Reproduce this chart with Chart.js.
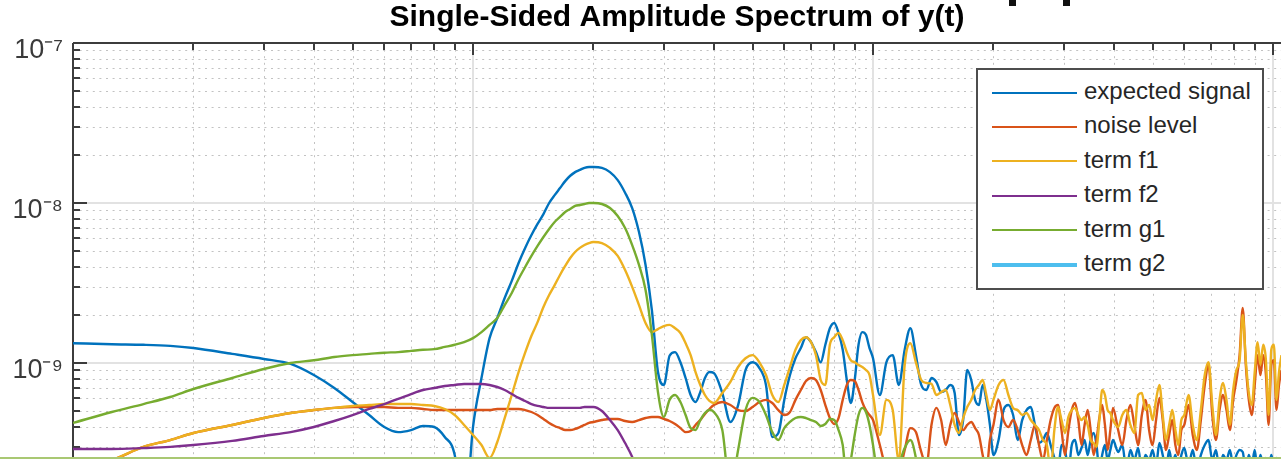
<!DOCTYPE html>
<html>
<head>
<meta charset="utf-8">
<title>Single-Sided Amplitude Spectrum of y(t)</title>
<script src="https://cdn.jsdelivr.net/npm/chart.js@4/dist/chart.umd.min.js"></script>
<style>
  html, body { margin: 0; padding: 0; background: #fff; overflow: hidden; }
  #wrap { position: relative; width: 1281px; height: 459px; }
  #spectrum { display: block; }
  #legend {
    position: absolute; left: 976px; top: 68px; width: 284px; height: 214px;
    border: 2px solid #4d4d4d; background: #fff; padding-top: 4px; box-sizing: content-box;
    font-family: "Liberation Sans", Arial, Helvetica, sans-serif; font-size: 24px; color: #262626;
  }
  #legend .row { height: 34.4px; line-height: 34.4px; white-space: nowrap; }
  #legend .swatch { display: inline-block; width: 85px; height: 0; margin: 0 7px 0 14px; vertical-align: middle; }
  .edge-mark { position: absolute; top: 0; width: 7px; height: 6px; background: #111; }
  #baseline-strip { position: absolute; left: 0; top: 457px; width: 1281px; height: 2px; background: #a9c873; }
</style>
</head>
<body>
<div id="wrap">
  <canvas id="spectrum" width="1281" height="459"></canvas>
  <div id="legend"></div>
  <div class="edge-mark" style="left:1009px"></div>
  <div class="edge-mark" style="left:1063px"></div>
  <div id="baseline-strip"></div>
</div>
<script>
// Frequency bins (Hz)
const freqHz = [
  1, 1.25, 1.5, 1.75, 2, 2.5, 3, 3.5, 4, 4.5, 5, 5.5, 6, 6.5, 7, 7.5, 8, 8.5, 9, 9.5, 10,
  10.5, 11, 11.5, 12, 12.5, 13, 13.5, 14, 14.5, 15, 15.5, 16, 16.5, 17, 17.5, 18, 18.5, 19, 19.5, 20,
  21, 22, 23, 24, 25, 26, 27, 28, 29, 30, 31, 32, 33, 34, 35, 36, 37, 38, 39, 40,
  42, 44, 46, 48, 50, 52, 54, 56, 58, 60, 62, 64, 66, 68, 70, 72, 74, 76, 78, 80,
  82, 84, 86, 88, 90, 92, 94, 96, 98, 100,
  104, 108, 112, 116, 120, 124, 128, 132, 136, 140, 144, 148, 152, 156, 160, 164, 168, 172, 176, 180,
  184, 188, 192, 196, 200,
  206, 212, 218, 224, 230, 236, 242, 248, 254, 260, 266, 272, 278, 284, 290, 296, 302, 308, 314, 320,
  326, 332, 338, 344, 350, 356, 362, 368, 374, 380, 386, 392, 398,
  410, 420, 430, 440, 450, 460, 470, 480, 490, 500, 510, 520, 530, 540, 550, 560, 570, 580, 590, 600,
  615, 630, 645, 660, 675, 690, 705, 720, 735, 750, 765, 780, 795, 810, 825, 840, 855, 870, 885, 900,
  915, 930, 945, 960, 975, 990, 1005, 1020, 1035, 1050
];

// |Y(f)| of each contribution
const expectedSignal = [
  1.33e-9, 1.31e-9, 1.30e-9, 1.28e-9, 1.24e-9, 1.14e-9, 1.06e-9, 9.86e-10, 8.41e-10, 6.98e-10,
  5.70e-10, 4.73e-10, 3.98e-10, 3.70e-10, 3.81e-10, 4.04e-10, 3.98e-10, 3.45e-10, 2.66e-10, 1.0e-10, 3.98e-10,
  8.05e-10, 1.43e-9, 1.91e-9, 2.55e-9, 3.26e-9, 4.22e-9, 5.24e-9, 6.31e-9, 7.40e-9, 8.53e-9,
  1.00e-8, 1.12e-8, 1.24e-8, 1.37e-8, 1.48e-8, 1.56e-8, 1.61e-8, 1.66e-8, 1.68e-8, 1.68e-8,
  1.66e-8, 1.56e-8, 1.39e-8, 1.16e-8, 9.30e-9, 6.58e-9, 4.10e-9, 2.14e-9, 8.78e-10, 7.29e-10,
  1.11e-9, 1.17e-9, 1.01e-9, 8.06e-10, 6.31e-10, 5.70e-10, 6.58e-10, 8.06e-10, 8.78e-10, 8.66e-10,
  6.49e-10, 4.28e-10, 5.46e-10, 9.04e-10, 1.01e-9, 9.30e-10, 7.29e-10, 3.45e-10, 3.65e-10, 5.88e-10,
  8.41e-10, 1.07e-9, 1.24e-9, 1.45e-9, 1.35e-9, 1.17e-9, 1.01e-9, 1.30e-9, 1.65e-9, 1.78e-9,
  1.54e-9, 1.21e-9, 7.83e-10, 5.62e-10, 7.83e-10, 1.30e-9, 1.56e-9, 1.50e-9, 1.24e-9, 1.07e-9,
  6.31e-10, 1.01e-9, 1.12e-9, 7.29e-10, 1.21e-9, 1.65e-9, 1.12e-9, 7.29e-10, 6.78e-10, 8.06e-10,
  7.61e-10, 6.58e-10, 6.78e-10, 7.29e-10, 6.49e-10, 3.55e-10, 4.40e-10, 9.04e-10, 7.83e-10, 5.88e-10,
  5.46e-10, 7.29e-10, 5.88e-10, 4.10e-10, 2.66e-10,
  3.30e-10, 5.08e-10, 5.46e-10, 4.73e-10, 3.30e-10, 4.40e-10, 5.08e-10, 5.31e-10, 4.10e-10, 3.16e-10,
  3.30e-10, 3.65e-10, 3.07e-10, 2.55e-10, 2.14e-10, 3.07e-10, 2.86e-10, 2.14e-10, 3.07e-10, 3.30e-10,
  2.66e-10, 2.94e-10, 3.30e-10, 2.66e-10, 3.30e-10, 3.65e-10, 3.07e-10, 2.14e-10, 2.66e-10, 3.07e-10,
  2.47e-10, 2.86e-10, 3.30e-10,
  2.78e-10, 3.07e-10, 2.14e-10, 2.86e-10, 2.47e-10, 2.94e-10, 2.14e-10, 2.66e-10, 2.47e-10, 2.86e-10,
  2.30e-10, 3.16e-10, 2.66e-10, 2.14e-10, 2.86e-10, 2.30e-10, 2.66e-10, 2.14e-10, 2.66e-10, 2.94e-10,
  2.30e-10, 2.86e-10, 2.14e-10, 2.66e-10, 3.07e-10, 3.30e-10, 2.47e-10, 2.86e-10, 2.14e-10, 2.66e-10,
  2.47e-10, 2.86e-10, 2.30e-10, 2.66e-10, 2.86e-10, 2.78e-10, 2.14e-10, 2.66e-10, 2.30e-10, 2.86e-10,
  2.14e-10, 2.66e-10, 2.30e-10, 2.55e-10, 2.14e-10, 2.66e-10, 2.30e-10, 2.55e-10, 2.14e-10, 2.47e-10
];

const noiseLevel = [
  2.14e-10, 2.47e-10, 2.99e-10, 3.30e-10, 3.65e-10, 4.10e-10, 4.53e-10, 4.87e-10, 5.08e-10, 5.24e-10,
  5.31e-10, 5.31e-10, 5.31e-10, 5.24e-10, 5.24e-10, 5.16e-10, 5.08e-10, 5.08e-10, 5.08e-10, 5.08e-10, 5.08e-10,
  5.08e-10, 5.08e-10, 5.16e-10, 5.16e-10, 5.16e-10, 5.16e-10, 5.08e-10, 4.94e-10, 4.73e-10, 4.47e-10,
  4.22e-10, 4.04e-10, 3.92e-10, 3.81e-10, 3.81e-10, 3.87e-10, 3.98e-10, 4.10e-10, 4.22e-10, 4.28e-10,
  4.40e-10, 4.47e-10, 4.47e-10, 4.34e-10, 4.28e-10, 4.40e-10, 4.53e-10, 4.60e-10, 4.60e-10, 4.47e-10,
  4.34e-10, 4.16e-10, 3.92e-10, 3.70e-10, 3.76e-10, 4.10e-10, 4.40e-10, 4.80e-10, 5.16e-10, 5.46e-10,
  5.70e-10, 5.46e-10, 5.08e-10, 5.01e-10, 5.31e-10, 5.70e-10, 5.88e-10, 5.62e-10, 5.08e-10, 4.73e-10,
  4.94e-10, 5.88e-10, 6.78e-10, 7.72e-10, 8.06e-10, 7.83e-10, 6.78e-10, 5.46e-10, 4.53e-10, 4.16e-10,
  4.53e-10, 5.88e-10, 7.29e-10, 7.83e-10, 7.72e-10, 6.78e-10, 5.70e-10, 5.08e-10, 4.73e-10, 4.40e-10,
  3.07e-10, 2.14e-10, 1.86e-10, 2.00e-10, 2.86e-10, 3.92e-10, 3.70e-10, 2.78e-10, 2.30e-10, 4.10e-10,
  5.24e-10, 4.40e-10, 3.07e-10, 4.10e-10, 4.87e-10, 4.28e-10, 3.81e-10, 4.10e-10, 4.28e-10, 3.92e-10,
  3.55e-10, 2.66e-10, 2.14e-10, 3.30e-10, 4.10e-10,
  5.88e-10, 4.40e-10, 3.98e-10, 4.40e-10, 3.81e-10, 3.07e-10, 2.66e-10, 3.30e-10, 4.10e-10, 3.07e-10,
  2.47e-10, 3.30e-10, 4.40e-10, 5.24e-10, 5.46e-10, 3.81e-10, 2.66e-10, 3.81e-10, 5.08e-10, 5.62e-10,
  4.40e-10, 3.07e-10, 4.10e-10, 5.08e-10, 3.81e-10, 2.66e-10, 3.30e-10, 4.53e-10, 5.46e-10, 4.10e-10,
  2.86e-10, 3.81e-10, 5.24e-10,
  3.81e-10, 3.07e-10, 4.40e-10, 5.46e-10, 4.10e-10, 3.07e-10, 4.73e-10, 5.88e-10, 3.81e-10, 3.07e-10,
  4.40e-10, 6.05e-10, 4.40e-10, 2.86e-10, 3.55e-10, 4.40e-10, 3.07e-10, 2.66e-10, 3.81e-10, 4.10e-10,
  5.46e-10, 3.55e-10, 2.86e-10, 4.40e-10, 7.29e-10, 9.72e-10, 4.73e-10, 3.30e-10, 5.08e-10, 6.31e-10,
  5.08e-10, 3.81e-10, 5.88e-10, 7.83e-10, 1.12e-9, 2.21e-9, 9.72e-10, 5.88e-10, 4.73e-10, 7.29e-10,
  1.12e-9, 8.41e-10, 1.12e-9, 8.41e-10, 4.10e-10, 9.72e-10, 1.04e-9, 5.08e-10, 7.29e-10, 9.04e-10
];

const termF1 = [
  2.08e-10, 2.47e-10, 2.99e-10, 3.30e-10, 3.65e-10, 4.10e-10, 4.53e-10, 4.87e-10, 5.08e-10, 5.24e-10,
  5.39e-10, 5.46e-10, 5.54e-10, 5.54e-10, 5.54e-10, 5.46e-10, 5.39e-10, 5.16e-10, 4.73e-10, 4.10e-10, 3.55e-10,
  3.07e-10, 2.55e-10, 3.21e-10, 4.53e-10, 6.31e-10, 8.78e-10, 1.16e-9, 1.48e-9, 1.80e-9, 2.24e-9,
  2.66e-9, 3.07e-9, 3.55e-9, 4.04e-9, 4.53e-9, 4.94e-9, 5.24e-9, 5.46e-9, 5.62e-9, 5.70e-9,
  5.62e-9, 5.24e-9, 4.67e-9, 3.81e-9, 2.99e-9, 2.30e-9, 1.78e-9, 1.56e-9, 1.63e-9, 1.70e-9,
  1.73e-9, 1.65e-9, 1.54e-9, 1.33e-9, 1.12e-9, 8.78e-10, 7.29e-10, 6.31e-10, 5.79e-10, 5.62e-10,
  6.49e-10, 7.61e-10, 9.44e-10, 1.07e-9, 1.12e-9, 1.01e-9, 8.41e-10, 6.31e-10, 5.70e-10, 7.29e-10,
  9.44e-10, 1.21e-9, 1.39e-9, 1.45e-9, 1.35e-9, 1.12e-9, 7.83e-10, 7.29e-10, 1.30e-9, 1.45e-9,
  1.54e-9, 1.39e-9, 1.17e-9, 1.04e-9, 1.01e-9, 9.72e-10, 9.44e-10, 9.04e-10, 8.41e-10, 6.31e-10,
  3.55e-10, 5.88e-10, 5.08e-10, 2.47e-10, 9.72e-10, 1.33e-9, 1.01e-9, 7.83e-10, 7.50e-10, 7.40e-10,
  6.31e-10, 6.58e-10, 6.78e-10, 5.46e-10, 4.10e-10, 3.65e-10, 4.53e-10, 5.31e-10, 5.88e-10, 6.78e-10,
  7.29e-10, 7.83e-10, 6.31e-10, 5.08e-10, 5.88e-10,
  7.29e-10, 7.83e-10, 6.31e-10, 5.24e-10, 5.08e-10, 4.73e-10, 4.87e-10, 4.40e-10, 4.10e-10, 3.81e-10,
  3.30e-10, 3.07e-10, 2.14e-10, 3.81e-10, 5.31e-10, 4.40e-10, 3.65e-10, 4.60e-10, 5.08e-10, 5.24e-10,
  4.73e-10, 4.40e-10, 4.60e-10, 4.10e-10, 3.30e-10, 3.16e-10, 2.99e-10, 4.40e-10, 6.78e-10, 6.31e-10,
  5.08e-10, 4.87e-10, 4.40e-10,
  3.98e-10, 4.73e-10, 5.08e-10, 4.10e-10, 3.65e-10, 6.31e-10, 6.49e-10, 5.08e-10, 5.46e-10, 4.40e-10,
  5.88e-10, 7.29e-10, 4.73e-10, 3.30e-10, 4.10e-10, 5.08e-10, 3.81e-10, 3.07e-10, 4.40e-10, 4.73e-10,
  6.31e-10, 4.10e-10, 3.30e-10, 5.08e-10, 8.41e-10, 1.01e-9, 5.46e-10, 3.55e-10, 5.88e-10, 7.50e-10,
  5.88e-10, 4.10e-10, 6.78e-10, 9.04e-10, 1.04e-9, 2.00e-9, 1.04e-9, 6.49e-10, 5.46e-10, 8.78e-10,
  1.35e-9, 9.72e-10, 1.30e-9, 1.04e-9, 4.73e-10, 1.21e-9, 1.30e-9, 5.88e-10, 8.78e-10, 1.12e-9
];

// f2 and g1 fall below the plotted range beyond their last listed bin
const termF2 = [
  2.90e-10, 2.90e-10, 2.94e-10, 2.99e-10, 3.07e-10, 3.26e-10, 3.50e-10, 3.70e-10, 3.98e-10, 4.34e-10,
  4.73e-10, 5.16e-10, 5.54e-10, 5.96e-10, 6.40e-10, 6.78e-10, 6.98e-10, 7.18e-10, 7.29e-10, 7.40e-10, 7.40e-10,
  7.40e-10, 7.29e-10, 7.08e-10, 6.78e-10, 6.40e-10, 6.05e-10, 5.79e-10, 5.54e-10, 5.39e-10, 5.31e-10,
  5.24e-10, 5.24e-10, 5.24e-10, 5.24e-10, 5.24e-10, 5.24e-10, 5.24e-10, 5.31e-10, 5.31e-10, 5.31e-10,
  5.01e-10, 4.40e-10, 3.81e-10, 3.16e-10, 2.59e-10, 2.00e-10, 1.30e-10, 9.8e-11
];

const termG1 = [
  4.22e-10, 4.94e-10, 5.54e-10, 6.13e-10, 6.88e-10, 8.06e-10, 9.17e-10, 1.00e-9, 1.04e-9, 1.09e-9,
  1.12e-9, 1.14e-9, 1.16e-9, 1.17e-9, 1.19e-9, 1.21e-9, 1.22e-9, 1.26e-9, 1.30e-9, 1.35e-9, 1.43e-9,
  1.56e-9, 1.73e-9, 1.91e-9, 2.30e-9, 2.74e-9, 3.35e-9, 3.98e-9, 4.67e-9, 5.39e-9, 6.13e-9,
  6.88e-9, 7.61e-9, 8.18e-9, 8.79e-9, 9.17e-9, 9.58e-9, 9.72e-9, 9.86e-9, 1.00e-8, 1.00e-8,
  9.86e-9, 9.30e-9, 8.29e-9, 6.98e-9, 5.46e-9, 4.10e-9, 2.86e-9, 1.50e-9, 6.58e-10, 4.60e-10,
  5.88e-10, 6.31e-10, 5.70e-10, 4.73e-10, 3.92e-10, 3.81e-10, 4.40e-10, 4.87e-10, 5.08e-10, 4.94e-10,
  3.81e-10, 1.61e-10, 2.86e-10, 5.08e-10, 6.05e-10, 5.70e-10, 4.73e-10, 3.70e-10, 3.30e-10, 3.92e-10,
  4.28e-10, 4.53e-10, 4.60e-10, 4.53e-10, 4.40e-10, 4.28e-10, 4.04e-10, 4.16e-10, 4.47e-10, 4.40e-10,
  3.81e-10, 3.07e-10, 1.86e-10, 2.47e-10, 3.55e-10, 4.73e-10, 5.24e-10, 4.94e-10, 4.10e-10, 3.07e-10,
  1.61e-10, 1.39e-10, 1.86e-10, 2.30e-10, 2.94e-10, 3.30e-10, 2.55e-10, 1.50e-10
];

// g2 stays under the lower limit over the whole band
const termG2Hz = [1, 10, 100, 1050];
const termG2 = [1.1e-10, 1.0e-10, 9.0e-11, 8.0e-11];

const seriesNames = ['expected signal', 'noise level', 'term f1', 'term f2', 'term g1', 'term g2'];
const seriesColors = ['#0072BD', '#D95319', '#EDB120', '#7E2F8E', '#77AC30', '#4DBEEE'];
const seriesWidths = [2.4, 2.4, 2.4, 2.4, 2.4, 4];

const yTickExponents = [-7, -8, -9];
const freqRange = [1, 1047];
const ampRange = [2.512e-10, 1e-7];

const FONT = '"Liberation Sans", Arial, Helvetica, sans-serif';
const AXIS_INK = '#3c3c3c';

const SUP = { '-': '\u207B', '0': '\u2070', '1': '\u00B9', '2': '\u00B2', '3': '\u00B3', '4': '\u2074',
              '5': '\u2075', '6': '\u2076', '7': '\u2077', '8': '\u2078', '9': '\u2079' };
const powerLabel = (e) => '10' + String(e).split('').map(c => SUP[c]).join('');

const valueSets = [expectedSignal, noiseLevel, termF1, termF2, termG1];

const datasets = seriesNames.map((name, i) => ({
  label: name,
  data: i < 5
    ? valueSets[i].map((v, j) => ({ x: freqHz[j], y: v }))
    : termG2.map((v, j) => ({ x: termG2Hz[j], y: v })),
  borderColor: seriesColors[i],
  backgroundColor: seriesColors[i],
  borderWidth: seriesWidths[i],
  pointRadius: 0,
  fill: false,
  cubicInterpolationMode: 'monotone',
  order: seriesNames.length - i   // later series are drawn on top
}));

// Grid (minor dotted, decades solid), box edges and inward tick marks
const axesFrame = {
  id: 'axesFrame',
  beforeDatasetsDraw(chart) {
    const { ctx, chartArea: a, scales: { x, y } } = chart;
    const xs = [], ys = [];
    for (let d = 0; d <= 3; d++) for (let k = 1; k <= 9; k++) {
      const v = k * Math.pow(10, d);
      if (v > x.min && v <= x.max) xs.push({ p: x.getPixelForValue(v), major: k === 1 });
    }
    for (let d = -10; d <= -8; d++) for (let k = 1; k <= 9; k++) {
      const v = k * Math.pow(10, d);
      if (v >= y.min && v < y.max) ys.push({ p: y.getPixelForValue(v), major: k === 1 });
    }
    ctx.save();
    // minor grid
    ctx.strokeStyle = '#c2c2c2';
    ctx.lineWidth = 1;
    ctx.setLineDash([2, 4.6]);
    ctx.beginPath();
    xs.filter(t => !t.major).forEach(t => { const px = Math.round(t.p) + 0.5; ctx.moveTo(px, a.top); ctx.lineTo(px, a.bottom); });
    ys.filter(t => !t.major).forEach(t => { const py = Math.round(t.p) + 0.5; ctx.moveTo(a.left, py); ctx.lineTo(a.right, py); });
    ctx.stroke();
    // major grid
    ctx.setLineDash([]);
    ctx.strokeStyle = '#e2e2e2';
    ctx.lineWidth = 2;
    ctx.beginPath();
    xs.filter(t => t.major).forEach(t => { const px = Math.round(t.p); ctx.moveTo(px, a.top); ctx.lineTo(px, a.bottom); });
    ys.filter(t => t.major).forEach(t => { const py = Math.round(t.p); ctx.moveTo(a.left, py); ctx.lineTo(a.right, py); });
    ctx.stroke();
    // box edges (left and top)
    ctx.strokeStyle = AXIS_INK;
    ctx.lineWidth = 2;
    ctx.beginPath();
    ctx.moveTo(a.left, a.top); ctx.lineTo(a.left, a.bottom);
    ctx.moveTo(a.left, a.top); ctx.lineTo(a.right, a.top);
    ctx.stroke();
    // inward ticks
    ctx.beginPath();
    xs.forEach(t => { const px = Math.round(t.p); ctx.moveTo(px, a.top); ctx.lineTo(px, a.top + (t.major ? 12 : 7)); });
    ys.forEach(t => { const py = Math.round(t.p); ctx.moveTo(a.left, py); ctx.lineTo(a.left + (t.major ? 14 : 7), py); });
    ctx.stroke();
    ctx.restore();
  }
};

new Chart(document.getElementById('spectrum'), {
  type: 'line',
  data: { datasets },
  plugins: [axesFrame],
  options: {
    responsive: false,
    animation: false,
    devicePixelRatio: 1,
    events: [],
    layout: { padding: 0, autoPadding: false },
    scales: {
      x: { type: 'logarithmic', min: freqRange[0], max: freqRange[1], display: false },
      y: {
        type: 'logarithmic', min: ampRange[0], max: ampRange[1],
        grid: { display: false, drawTicks: false }, border: { display: false },
        afterFit: (s) => { s.width = 73; s.paddingTop = 0; s.paddingBottom = 0; },
        ticks: {
          autoSkip: false, padding: 10, labelOffset: 8, color: '#3a3a3a',
          font: { family: FONT, size: 27 },
          callback: (v) => {
            const e = Math.log10(v), r = Math.round(e);
            return (Math.abs(e - r) < 1e-6 && yTickExponents.includes(r)) ? powerLabel(r) : null;
          }
        }
      }
    },
    plugins: {
      legend: { display: false },
      tooltip: { enabled: false },
      title: {
        display: true, fullSize: false,
        text: 'Single-Sided Amplitude Spectrum of y(t)',
        color: '#000',
        font: { family: FONT, size: 30, weight: 'bold', lineHeight: 1.2 },
        padding: { top: 0, bottom: 7 }
      }
    }
  }
});

// Legend box inside the axes, top right
const legendEl = document.getElementById('legend');
seriesNames.forEach((name, i) => {
  const row = document.createElement('div');
  row.className = 'row';
  const sw = document.createElement('span');
  sw.className = 'swatch';
  sw.style.borderTop = Math.round(seriesWidths[i]) + 'px solid ' + seriesColors[i];
  row.appendChild(sw);
  row.appendChild(document.createTextNode(name));
  legendEl.appendChild(row);
});
</script>
</body>
</html>
